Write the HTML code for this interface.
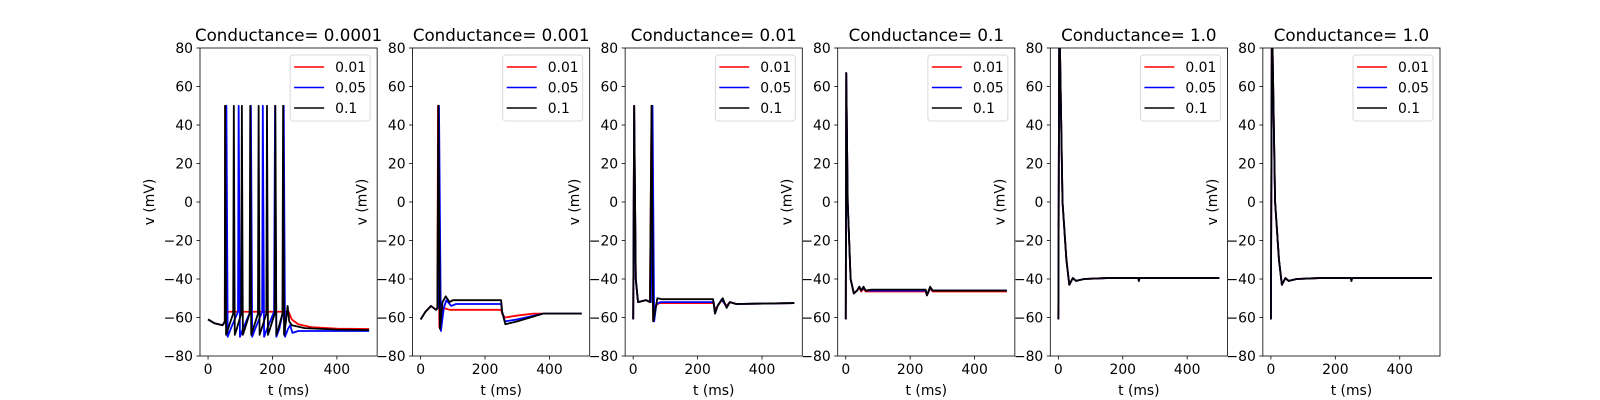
<!DOCTYPE html>
<html><head><meta charset="utf-8"><style>
html,body{margin:0;padding:0;background:#fff;}
svg{display:block;font-family:"DejaVu Sans","Liberation Sans",sans-serif;}
</style></head><body>
<svg id="fig" width="1600" height="400" viewBox="0 0 1600 400" xmlns="http://www.w3.org/2000/svg"></svg>
<script>
const titles = ["Conductance= 0.0001","Conductance= 0.001","Conductance= 0.01","Conductance= 0.1","Conductance= 1.0","Conductance= 1.0"];
const seriesNames = ["0.01","0.05","0.1"];
const xTicks = [0,200,400];
const yTicks = [-80,-60,-40,-20,0,20,40,60,80];

// Panel 1
const p1_red_t = [0,20,45,52,53,57,62,250,260,280,320,400,500];
const p1_red_v = [-61,-63,-64,-62,50,-60,-57,-57,-61,-63.5,-65,-65.8,-66];
const p1_blue_t = [0,20,45,55,57,61,70,93,95,99,108,131,133,137,146,168,170,174,183,205,208,212,221,233,235,239,248,255,262,280,500];
const p1_blue_v = [-61,-63,-64,-62,50,-70,-66,-57,50,-70,-66,-57,50,-70,-66,-57,50,-70,-66,-57,50,-70,-66,-57,50,-70,-66,-64,-68,-67,-67];
const p1_black_t = [0,20,45,52,53,56,62,78,80,83,89,103,105,108,114,129,131,134,140,155,157,160,166,181,183,186,192,207,209,212,218,231,233,236,242,247,252,260,300,400,500];
const p1_black_v = [-61,-63,-64,-62,50,-69,-66,-58,50,-69,-66,-58,50,-69,-66,-58,50,-69,-66,-58,50,-69,-66,-58,50,-69,-66,-58,50,-69,-66,-58,50,-69,-62,-54,-62,-64,-65.5,-66.3,-66.5];
// Panel 2
const p2_red_t = [0,15,32,48,52,54,58,64,70,90,250,253,262,300,350,500];
const p2_red_v = [-61,-57,-54,-56,-55,50,-65,-57,-55,-56,-56,-58,-60,-59,-58,-58];
const p2_blue_t = [0,15,32,48,54,57,63,72,80,95,110,250,253,262,300,380,500];
const p2_blue_v = [-61,-57,-54,-56,-55,50,-67,-55,-51,-54,-53,-53,-57,-62,-61,-58,-58];
const p2_black_t = [0,15,32,48,52,55,60,68,78,90,100,250,253,263,300,380,500];
const p2_black_v = [-61,-57,-54,-56,-55,50,-66,-52,-49,-52,-51,-51,-57,-63.5,-62,-58,-58];
// Panel 3
const p3_red_t = [0,3,8,15,40,52,57,62,70,80,250,254,262,275,290,300,320,500];
const p3_red_v = [-61,50,-40,-52,-51,-52,50,-61,-54,-52.5,-52.5,-56,-54,-51,-54,-52,-53,-52.5];
const p3_blue_t = [0,3,8,15,40,55,60,65,72,85,250,254,262,275,290,300,320,500];
const p3_blue_v = [-61,50,-40,-52,-51,-52,50,-62,-53,-52,-52,-58,-54,-50.5,-54.5,-52,-53,-52.5];
const p3_black_t = [0,3,8,15,40,52,57,62,75,90,248,254,262,278,290,300,320,500];
const p3_black_v = [-61,50,-40,-52,-51,-52,50,-62,-50,-50.5,-50.5,-58,-54,-50,-55,-52,-53,-52.5];
// Panel 4
const p4_red_t = [0,1.5,6,15,25,35,42,48,55,62,80,248,252,262,270,500];
const p4_red_v = [-61,67,0,-40,-47.5,-46,-44.5,-46.5,-45,-46.5,-46.5,-46.5,-48.5,-45,-46.5,-46.5];
const p4_blue_t = [0,1.5,6,15,25,35,42,48,55,62,80,248,252,262,270,500];
const p4_blue_v = [-61,67,0,-40,-47.5,-46,-44,-46,-44.5,-46,-46,-46,-48.5,-44.5,-46,-46];
const p4_black_t = [0,1.5,6,15,25,35,42,48,55,62,80,248,252,262,270,500];
const p4_black_v = [-61,67,0,-40,-47.5,-46,-44,-46,-44,-46,-45.5,-45.5,-48.5,-44,-46,-46];
// Panel 5
const p5_t = [0,3,13,25,34,45,55,80,150,248,250,252,500];
const p5_v = [-61,100,0,-30,-43,-39.5,-41,-40,-39.5,-39.5,-41,-39.5,-39.5];
// Panel 6
const p6_t = [0,3,13,25,34,45,55,80,150,248,250,252,500];
const p6_v = [-61,100,0,-30,-43,-39.5,-41,-40,-39.5,-39.5,-41,-39.5,-39.5];

const panels = [
 [[p1_red_t,p1_red_v],[p1_blue_t,p1_blue_v],[p1_black_t,p1_black_v]],
 [[p2_red_t,p2_red_v],[p2_blue_t,p2_blue_v],[p2_black_t,p2_black_v]],
 [[p3_red_t,p3_red_v],[p3_blue_t,p3_blue_v],[p3_black_t,p3_black_v]],
 [[p4_red_t,p4_red_v],[p4_blue_t,p4_blue_v],[p4_black_t,p4_black_v]],
 [[p5_t,p5_v],[p5_t,p5_v],[p5_t,p5_v]],
 [[p6_t,p6_v],[p6_t,p6_v],[p6_t,p6_v]]
];
const colors = ["#ff0000","#0000ff","#000000"];

const NS="http://www.w3.org/2000/svg";
const svg=document.getElementById('fig');
function mk(tag,attrs,parent){const e=document.createElementNS(NS,tag);for(const k in attrs)e.setAttribute(k,attrs[k]);(parent||svg).appendChild(e);return e;}
const L0=200, W=1240/7, GAP=W*0.2, TOP=48, BOT=356;
const xmin=-25,xmax=525,ymin=-80,ymax=80;
const fmt=v=>(v<0?"\u2212"+(-v):""+v);
panels.forEach((series,i)=>{
  const left=L0+i*(W+GAP), right=left+W;
  const sx=t=>left+(t-xmin)/(xmax-xmin)*W;
  const sy=v=>BOT-(v-ymin)/(ymax-ymin)*(BOT-TOP);
  const g=mk('g',{});
  
  
  const cp=mk('clipPath',{id:'cp'+i},g);
  mk('rect',{x:left,y:TOP,width:W,height:BOT-TOP},cp);
  series.forEach((s,j)=>{
    const d=s[0].map((t,k)=>(k?'L':'M')+sx(t).toFixed(2)+' '+sy(s[1][k]).toFixed(2)).join(' ');
    const p=mk('path',{d:d,fill:'none',stroke:colors[j],'stroke-width':1.8,'stroke-linejoin':'round','clip-path':'url(#cp'+i+')'},g);
    
    
  });
  const frame=mk('rect',{x:left,y:TOP,width:W,height:BOT-TOP,fill:'none',stroke:'#000','stroke-width':0.8},g);
  
  
  xTicks.forEach(t=>{
    const x=sx(t);
    mk('line',{x1:x,x2:x,y1:BOT,y2:BOT+3.5,stroke:'#000','stroke-width':0.8},g);
    const tx=mk('text',{x:x,y:BOT+18,'text-anchor':'middle','font-size':'13.9px'},g);
    tx.textContent=fmt(t);
    
    
  });
  yTicks.forEach(v=>{
    const y=sy(v);
    mk('line',{x1:left,x2:left-3.5,y1:y,y2:y,stroke:'#000','stroke-width':0.8},g);
    const tx=mk('text',{x:left-7,y:y+5,'text-anchor':'end','font-size':'13.9px'},g);
    tx.textContent=fmt(v);
    
    
  });
  const ttl=mk('text',{x:(left+right)/2,y:TOP-7,'text-anchor':'middle','font-size':'16.7px'},g);
  ttl.textContent=titles[i];
  
  
  const xl=mk('text',{x:(left+right)/2,y:395,'text-anchor':'middle','font-size':'13.9px'},g);
  xl.textContent='t (ms)';
  
  
  const yx=left-46, yy=(TOP+BOT)/2;
  const yl=mk('text',{x:yx,y:yy,'text-anchor':'middle','font-size':'13.9px',transform:'rotate(-90 '+yx+' '+yy+')'},g);
  yl.textContent='v (mV)';
  
  
  const lg=mk('g',{},g);
  
  
  const lx=right-87, ly=TOP+7;
  mk('rect',{x:lx,y:ly,width:80,height:66,rx:3,fill:'#fff','fill-opacity':0.8,stroke:'#d0d0d0','stroke-width':0.8},lg);
  seriesNames.forEach((n,j)=>{
    const y=ly+12+j*20.5;
    mk('line',{x1:lx+4,x2:lx+34,y1:y,y2:y,stroke:colors[j],'stroke-width':1.5},lg);
    const t=mk('text',{x:lx+45,y:y+5,'font-size':'13.9px'},lg);
    t.textContent=n;
    
    
  });
});
</script>
</body></html>
